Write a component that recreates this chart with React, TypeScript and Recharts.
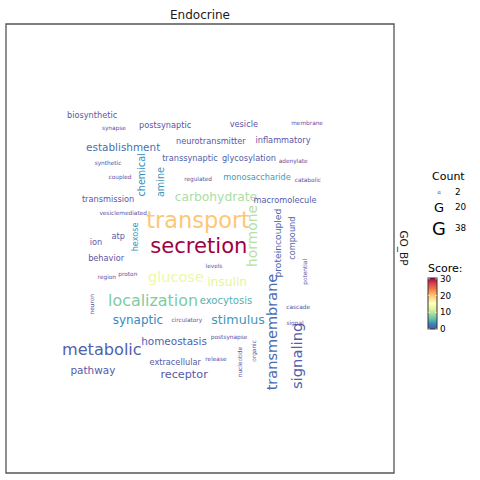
import React from "react";
import { ScatterChart, Scatter, XAxis, YAxis, ReferenceArea } from "recharts";

// ---- data ----
const words = [
  "transport", "secretion", "metabolic", "localization", "glucose", "hormone",
  "transmembrane", "signaling", "insulin", "carbohydrate", "stimulus", "synaptic",
  "receptor", "exocytosis", "homeostasis", "establishment", "pathway", "proteincoupled",
  "chemical", "amine", "compound", "hexose", "neurotransmitter", "inflammatory",
  "transsynaptic", "glycosylation", "monosaccharide", "macromolecule", "vesicle", "postsynaptic",
  "biosynthetic", "transmission", "behavior", "extracellular", "ion", "atp",
  "membrane", "synapse", "synthetic", "adenylate", "coupled", "regulated",
  "catabolic", "vesiclemediated", "region", "proton", "levels", "potential",
  "neuron", "circulatory", "postsynapse", "organic", "nucleotide", "release",
  "cascade", "signal",
];
const xs = [
  49.5, 49.7, 24.7, 37.9, 43.8, 63.4,
  68.6, 75.0, 57.0, 54.1, 59.8, 34.0,
  45.9, 56.7, 43.3, 30.2, 22.4, 70.1,
  34.8, 39.7, 73.7, 33.2, 52.8, 71.4,
  47.4, 62.6, 64.7, 71.9, 61.3, 41.0,
  22.2, 26.3, 25.8, 43.6, 23.2, 28.9,
  77.6, 27.8, 26.3, 74.0, 29.4, 49.5,
  77.8, 30.2, 26.0, 31.4, 53.6, 77.1,
  22.2, 46.6, 57.5, 63.9, 60.3, 54.1,
  75.3, 74.5,
];
const ys = [
  56.3, 50.6, 27.6, 38.5, 43.7, 52.8,
  31.4, 26.1, 42.5, 61.5, 34.1, 34.1,
  22.0, 38.5, 29.4, 72.6, 22.9, 51.2,
  66.4, 64.8, 52.3, 52.6, 73.9, 74.2,
  70.2, 70.2, 65.9, 60.8, 77.7, 77.5,
  79.7, 61.0, 47.9, 24.7, 51.4, 52.8,
  78.0, 76.8, 69.0, 69.5, 65.9, 65.5,
  65.3, 57.9, 43.7, 44.3, 46.1, 44.8,
  37.6, 34.1, 30.3, 27.2, 24.7, 25.4,
  37.0, 33.4,
];
const counts = [
  60, 53, 31, 30, 25, 23,
  25, 26, 18, 18, 19, 17,
  15, 12, 13, 13, 13, 10,
  11, 11, 8, 8, 8, 8,
  8, 8, 8, 8, 8, 8,
  8, 8, 8, 8, 8, 8,
  4, 4, 4, 4, 4, 4,
  4, 4, 4, 4, 4, 4,
  4, 4, 4, 4, 4, 4,
  4, 4,
];
const scores = [
  19.5, 30, 1, 7, 13, 9.5,
  1.5, 0.8, 12, 9, 3.8, 3.2,
  0.5, 5, 1, 1.8, 0.5, 1.2,
  3.3, 3.7, 1, 3.5, 0.3, 0.3,
  0.8, 0.8, 4, 0.7, 0.3, 0.3,
  0.3, 0.3, 0.3, 0.5, 0.3, 0.8,
  0, 0, 0, 0, 0, 0,
  0, 0, 0, 0, 0, 0,
  0, 0, 0, 0, 0, 0,
  0, 0,
];
const rotated = [
  0, 0, 0, 0, 0, 1,
  1, 1, 0, 0, 0, 0,
  0, 0, 0, 0, 0, 1,
  1, 1, 1, 1, 0, 0,
  0, 0, 0, 0, 0, 0,
  0, 0, 0, 0, 0, 0,
  0, 0, 0, 0, 0, 0,
  0, 0, 0, 0, 0, 1,
  1, 0, 0, 1, 1, 0,
  0, 0,
];
const panelTitle = "Endocrine";
const rowStrip = "GO_BP";
const countBreaks = [2, 20, 38];
const scoreTicks = [0, 10, 20, 30];
const scoreLimits = [0, 30.5];

// ---- helpers ----
const SPECTRAL = [
  "#9E0142", "#D53E4F", "#F46D43", "#FDAE61", "#FEE08B", "#FFFFBF",
  "#E6F598", "#ABDDA4", "#66C2A5", "#3288BD", "#5E4FA2",
];
const ramp = [...SPECTRAL].reverse(); // low = blue, high = red
const hex2rgb = (h: string) => [1, 3, 5].map((i) => parseInt(h.slice(i, i + 2), 16));
function scoreColor(s: number) {
  const t = Math.max(0, Math.min(1, s / 30)) * (ramp.length - 1);
  const i = Math.min(ramp.length - 2, Math.floor(t));
  const f = t - i;
  const a = hex2rgb(ramp[i]);
  const b = hex2rgb(ramp[i + 1]);
  const c = a.map((v, k) => Math.round(v + (b[k] - v) * f));
  return `rgb(${c[0]},${c[1]},${c[2]})`;
}
const sizeOf = (c: number) => Math.sqrt(c) * 2.9;
const FONT = "DejaVu Sans";

const data = words.map((w, i) => ({
  word: w,
  x: xs[i],
  y: ys[i],
  count: counts[i],
  score: scores[i],
  rot: rotated[i],
}));

const WordShape = (props: any) => {
  const { cx, cy, payload } = props;
  if (cx == null || cy == null) return null;
  return (
    <text
      x={cx}
      y={cy}
      textAnchor="middle"
      dominantBaseline="central"
      fontFamily={FONT}
      fontSize={sizeOf(payload.count)}
      fill={scoreColor(payload.score)}
      transform={payload.rot ? `rotate(-90 ${cx} ${cy})` : undefined}
    >
      {payload.word}
    </text>
  );
};

const W = 480;
const H = 480;
const M = { top: 24, right: 86, bottom: 7, left: 6 };

const Overlay = () => {
  const barTop = 278;
  const barBot = 329;
  const barX = 428;
  const barW = 9;
  const yOfScore = (s: number) =>
    barBot - ((s - scoreLimits[0]) / (scoreLimits[1] - scoreLimits[0])) * (barBot - barTop);
  const keyY = [192, 207, 228];
  return (
    <svg
      width={W}
      height={H}
      style={{ position: "absolute", left: 0, top: 0, pointerEvents: "none" }}
      fontFamily={FONT}
    >
      <defs>
        <linearGradient id="scoreGrad" x1="0" y1="1" x2="0" y2="0">
          {ramp.map((c, i) => (
            <stop key={i} offset={i / (ramp.length - 1)} stopColor={c} />
          ))}
        </linearGradient>
      </defs>
      <text x={200} y={15} textAnchor="middle" dominantBaseline="central" fontSize={12} fill="#1a1a1a">
        {panelTitle}
      </text>
      <text
        x={404}
        y={248}
        textAnchor="middle"
        dominantBaseline="central"
        fontSize={10.5}
        fill="#1a1a1a"
        transform="rotate(90 404 248)"
      >
        {rowStrip}
      </text>
      <text x={432} y={176} dominantBaseline="central" fontSize={11} fill="#000">
        Count
      </text>
      {countBreaks.map((c, i) => (
        <g key={c}>
          <text
            x={439}
            y={keyY[i]}
            textAnchor="middle"
            dominantBaseline="central"
            fontSize={sizeOf(c)}
            fill="#000"
          >
            G
          </text>
          <text x={455} y={keyY[i]} dominantBaseline="central" fontSize={8.8} fill="#000">
            {c}
          </text>
        </g>
      ))}
      <text x={428} y={268} dominantBaseline="central" fontSize={11} fill="#000">
        Score:
      </text>
      <rect x={barX} y={barTop} width={barW} height={barBot - barTop} fill="url(#scoreGrad)" stroke="#333" strokeWidth={1} />
      {scoreTicks.map((t) => (
        <g key={t}>
          <line x1={barX} x2={barX + 2} y1={yOfScore(t)} y2={yOfScore(t)} stroke="#fff" strokeWidth={0.6} />
          <line x1={barX + barW - 2} x2={barX + barW} y1={yOfScore(t)} y2={yOfScore(t)} stroke="#fff" strokeWidth={0.6} />
          <text x={440} y={yOfScore(t)} dominantBaseline="central" fontSize={8.8} fill="#000">
            {t}
          </text>
        </g>
      ))}
    </svg>
  );
};

export default function App() {
  return (
    <div style={{ position: "relative", width: W, height: H, background: "#fff" }}>
      <style>{"body{margin:0;background:#fff}"}</style>
      <ScatterChart width={W} height={H} margin={M}>
        <XAxis type="number" dataKey="x" domain={[0, 100]} hide />
        <YAxis type="number" dataKey="y" domain={[0, 100]} hide />
        <ReferenceArea x1={0} x2={100} y1={0} y2={100} fill="#fff" fillOpacity={0} stroke="#555" strokeWidth={1.3} />
        <Scatter data={data} shape={<WordShape />} isAnimationActive={false} />
      </ScatterChart>
      <Overlay />
    </div>
  );
}
